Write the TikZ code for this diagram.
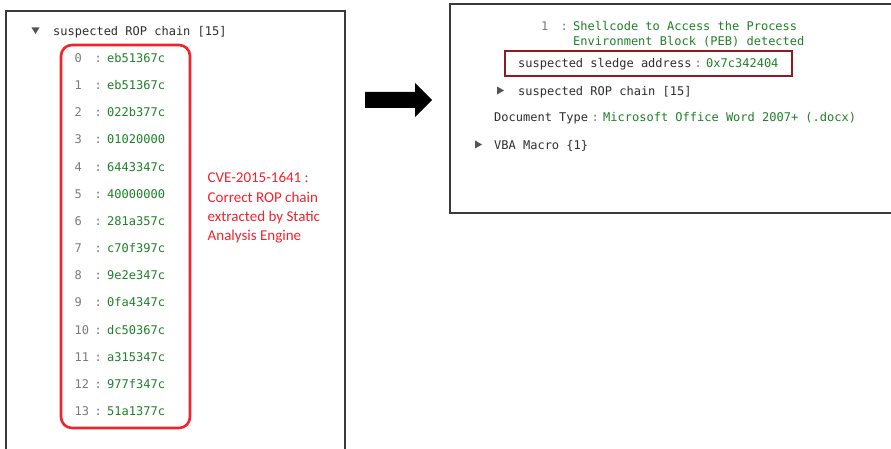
\documentclass[tikz,border=0pt]{standalone}
\usepackage{fontspec}
\newfontfamily\codefont{DejaVu Sans Mono}
\newfontfamily\notefont{Carlito}
\definecolor{frame}{HTML}{3A3A3A}
\definecolor{keytext}{HTML}{2E2E2E}
\definecolor{idxtext}{HTML}{7A7A7A}
\definecolor{valtext}{HTML}{1F8029}
\definecolor{hilite}{HTML}{F0242C}
\definecolor{sledge}{HTML}{8E1B22}
\definecolor{caret}{HTML}{555555}
\tikzset{
  code/.style={font=\codefont\fontsize{12}{14}\selectfont, inner sep=0pt, anchor=base west},
  keylbl/.style={code, text=keytext},
  idxlbl/.style={code, text=idxtext},
  sep/.style={code, text=idxtext},
  vallbl/.style={code, text=valtext},
  note/.style={font=\notefont\fontsize{15}{19.2}\selectfont, text=hilite, inner sep=0pt,
    anchor=north west, align=left},
  panel/.style={draw=frame, line width=1.4pt},
  caretmark/.style={fill=caret, draw=none},
}
\begin{document}
\begin{tikzpicture}[x=1pt, y=-1pt]
\useasboundingbox (0,0) rectangle (891,449);
\fill[white] (0,0) rectangle (891,449);

% left panel (runs past the lower edge)
\draw[panel] (6,470) -- (6,11) -- (345,11) -- (345,470);

% header row
\fill[caretmark] (31.5,27.5) -- (39.5,27.5) -- (35.5,34) -- cycle;
\node[keylbl] (hdr) at (53,35.5) {suspected ROP chain [15]};

% ROP chain entries
\foreach \i/\v [count=\n from 0] in {0/eb51367c,1/eb51367c,2/022b377c,3/01020000,
  4/6443347c,5/40000000,6/281a357c,7/c70f397c,8/9e2e347c,9/0fa4347c,
  10/dc50367c,11/a315347c,12/977f347c,13/51a1377c}{
  \pgfmathsetmacro{\yy}{62.5+27.15*\n}
  \node[idxlbl] (idx\i) at (74.5,\yy) {\i};
  \node[sep] (col\i) at (94.5,\yy) {:};
  \node[vallbl] (val\i) at (107,\yy) {\v};
}

% highlight around the chain
\draw[hilite, line width=2.6pt, rounded corners=11pt] (61,45) rectangle (190,428);

% annotation
\node[note] (note) at (207.5,172.5) {CVE-2015-1641 :\\Correct ROP chain\\extracted by Static\\Analysis Engine};

% block arrow between the panels
\fill[black] (365,92) -- (415,92) -- (415,83) -- (432,100) -- (415,117) -- (415,108) -- (365,108) -- cycle;

% right panel (runs past the right edge)
\draw[panel] (900,4) -- (450,4) -- (450,213) -- (900,213);

% shellcode finding
\node[idxlbl] (shidx) at (541,30.5) {1};
\node[sep] (shcol) at (560.5,30.5) {:};
\node[vallbl] (sh1) at (573,30.5) {Shellcode to Access the Process};
\node[vallbl] (sh2) at (573,45.5) {Environment Block (PEB) detected};

% sledge address
\node[keylbl] (sledgekey) at (518,67.5) {suspected sledge address};
\node[sep] (sledgecol) at (694.5,67.5) {:};
\node[vallbl] (sledgeval) at (706,67.5) {0x7c342404};
\draw[sledge, line width=1.8pt] (505,51) rectangle (792,76);

% collapsed ROP chain
\fill[caretmark] (497,86.5) -- (504,90.5) -- (497,94.5) -- cycle;
\node[keylbl] (ropkey) at (518,95.5) {suspected ROP chain [15]};

% document type
\node[keylbl] (dockey) at (494,121.5) {Document Type};
\node[sep] (doccol) at (591.5,121.5) {:};
\node[vallbl] (docval) at (603,121.5) {Microsoft Office Word 2007+ (.docx)};

% VBA macro
\fill[caretmark] (475,140.5) -- (482,144.5) -- (475,148.5) -- cycle;
\node[keylbl] (vbakey) at (494,149.5) {VBA Macro \{1\}};
\end{tikzpicture}
\end{document}
